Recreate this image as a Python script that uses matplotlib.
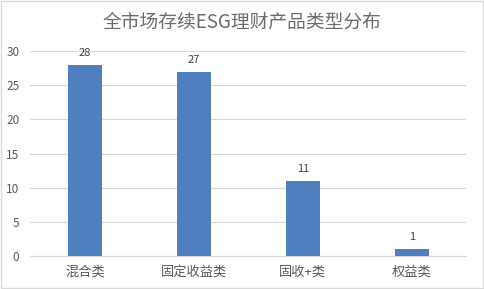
import matplotlib.pyplot as plt
import numpy as np

plt.rcParams['font.family'] = ['Noto Sans CJK SC', 'DejaVu Sans']

categories = ['混合类', '固定收益类', '固收+类', '权益类']
values = [28, 27, 11, 1]
yticks = [0, 5, 10, 15, 20, 25, 30]
title = '全市场存续ESG理财产品类型分布'

fig = plt.figure(figsize=(4.84, 2.89), dpi=100)
ax = fig.add_axes([0.063, 0.114, 0.9, 0.7095])

x = np.arange(len(categories))
bars = ax.bar(x, values, width=0.31, color='#4f7fbf', zorder=3)
for b, v in zip(bars, values):
    ax.text(b.get_x() + b.get_width() / 2, v + 1.0, str(v),
            ha='center', va='bottom', fontsize=8, color='#404040')

ax.set_xlim(-0.5, len(categories) - 0.5)
ax.set_ylim(0, 30)
ax.set_yticks(yticks)
ax.set_xticks(x)
ax.set_xticklabels(categories, fontsize=9.5, color='#595959')
ax.tick_params(axis='y', labelsize=8.5, labelcolor='#595959', length=0, pad=8)
ax.tick_params(axis='x', length=0, pad=7)
ax.grid(axis='y', color='#d9d9d9', linewidth=0.8, zorder=0)
for s in ['top', 'right', 'left']:
    ax.spines[s].set_visible(False)
ax.spines['bottom'].set_color('#d9d9d9')

fig.text(0.5, 0.925, title, ha='center', va='center', fontsize=13.5,
         color='#6b6b6b', fontweight='light')

# light frame around the whole picture
fig.patches.append(plt.Rectangle((0.002, 0.003), 0.996, 0.994, transform=fig.transFigure,
                                 fill=False, edgecolor='#d9d9d9', linewidth=1))

fig.savefig('out.png', dpi=100)
